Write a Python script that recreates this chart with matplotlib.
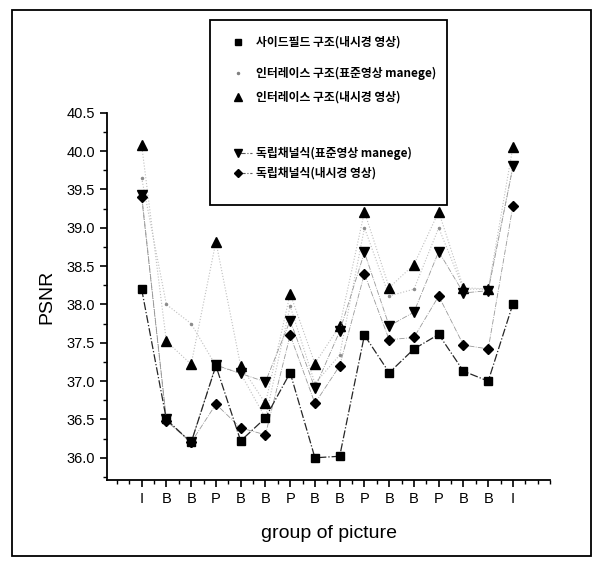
import matplotlib
matplotlib.use('agg')
import matplotlib.pyplot as plt
from matplotlib.lines import Line2D
from matplotlib.patches import Rectangle
from matplotlib.ticker import MultipleLocator, FormatStrFormatter

plt.rcParams['font.family'] = ['Liberation Sans', 'DejaVu Sans']

frames = ['I', 'B', 'B', 'P', 'B', 'B', 'P', 'B', 'B', 'P', 'B', 'B', 'P', 'B', 'B', 'I']
x = list(range(1, len(frames) + 1))

side_endo = [38.2, 36.5, 36.2, 37.2, 36.22, 36.52, 37.11, 36.0, 36.02, 37.6, 37.11, 37.42, 37.61, 37.13, 37.0, 38.01]
inter_std = [39.65, 38.0, 37.75, 37.2, 37.1, 36.52, 37.98, 36.97, 37.34, 39.0, 38.11, 38.2, 39.0, 38.2, 38.2, 39.8]
inter_endo = [40.08, 37.52, 37.22, 38.82, 37.2, 36.71, 38.14, 37.23, 37.72, 39.21, 38.22, 38.52, 39.21, 38.22, 38.2, 40.06]
indep_std = [39.43, 36.5, 36.2, 37.21, 37.1, 36.99, 37.79, 36.91, 37.65, 38.68, 37.72, 37.9, 38.69, 38.15, 38.18, 39.8]
indep_endo = [39.4, 36.48, 36.2, 36.7, 36.39, 36.3, 37.6, 36.71, 37.2, 38.4, 37.54, 37.57, 38.11, 37.47, 37.42, 39.29]

labels = ['사이드필드 구조(내시경 영상)', '인터레이스 구조(표준영상 manege)', '인터레이스 구조(내시경 영상)',
          '독립채널식(표준영상 manege)', '독립채널식(내시경 영상)']

fig = plt.figure(figsize=(5.96, 5.67), dpi=100)
ax = fig.add_axes([0.1795, 0.1534, 0.7435, 0.6476])

ax.plot(x, inter_std, linestyle=':', color='0.75', lw=0.8, marker='.', markersize=3,
        markerfacecolor='0.55', markeredgecolor='0.55')
ax.plot(x, inter_endo, linestyle=':', color='0.75', lw=0.8, marker='^', markersize=6.5,
        markerfacecolor='black', markeredgecolor='black')
ax.plot(x, indep_std, linestyle='-.', color='0.6', lw=0.6, marker='v', markersize=6.5,
        markerfacecolor='black', markeredgecolor='black')
ax.plot(x, indep_endo, linestyle='-.', color='0.6', lw=0.6, marker='D', markersize=5,
        markerfacecolor='black', markeredgecolor='black')
ax.plot(x, side_endo, linestyle='-.', color='0.15', lw=0.9, marker='s', markersize=5.5,
        markerfacecolor='black', markeredgecolor='black')

ax.set_xlim(-0.4, 17.5)
ax.set_ylim(35.71, 40.5)
ax.set_xticks(x)
ax.set_xticklabels(frames)
ax.xaxis.set_minor_locator(MultipleLocator(0.5))
ax.yaxis.set_major_locator(MultipleLocator(0.5))
ax.yaxis.set_minor_locator(MultipleLocator(0.25))
ax.yaxis.set_major_formatter(FormatStrFormatter('%.1f'))
ax.tick_params(axis='both', which='major', direction='out', length=5, width=1.2, labelsize=10.5)
ax.tick_params(axis='both', which='minor', direction='out', length=3, width=1)
for s in ['top', 'right']:
    ax.spines[s].set_visible(False)
for s in ['left', 'bottom']:
    ax.spines[s].set_linewidth(1.3)

ax.set_xlabel('group of picture', fontsize=14, labelpad=14)
ax.set_ylabel('PSNR', fontsize=14, labelpad=8)

W, H = 596, 567
# outer frame
fig.patches.append(Rectangle((12 / W, 1 - 556 / H), 579 / W, 546 / H, transform=fig.transFigure,
                             fill=False, edgecolor='black', lw=1.3))

# legend box
fig.patches.append(Rectangle((210 / W, 1 - 205 / H), 237 / W, 185 / H, transform=fig.transFigure,
                             fill=True, facecolor='white', edgecolor='black', lw=1.3, zorder=5))
leg_y = [41.7, 73, 96.7, 153, 173]
leg_marker = [('s', 5, 'black', None), ('.', 3, '0.5', None), ('^', 6, 'black', None),
              ('v', 6, 'black', '-.'), ('D', 4.5, 'black', '-.')]
for yy, lab, (m, ms, c, ls) in zip(leg_y, labels, leg_marker):
    fy = 1 - yy / H
    if ls:
        fig.add_artist(Line2D([238 / W, 252 / W], [fy, fy], transform=fig.transFigure, color='0.35',
                              lw=0.8, linestyle=ls, zorder=6))
    fig.add_artist(Line2D([238 / W], [fy], transform=fig.transFigure, marker=m, markersize=ms,
                          color=c, linestyle='none', zorder=6))
    fig.text(256 / W, fy, lab, fontsize=8.5, va='center', ha='left', zorder=6,
             family=['Noto Sans CJK KR', 'DejaVu Sans'], fontweight='bold')

fig.savefig('out.png', dpi=100)
